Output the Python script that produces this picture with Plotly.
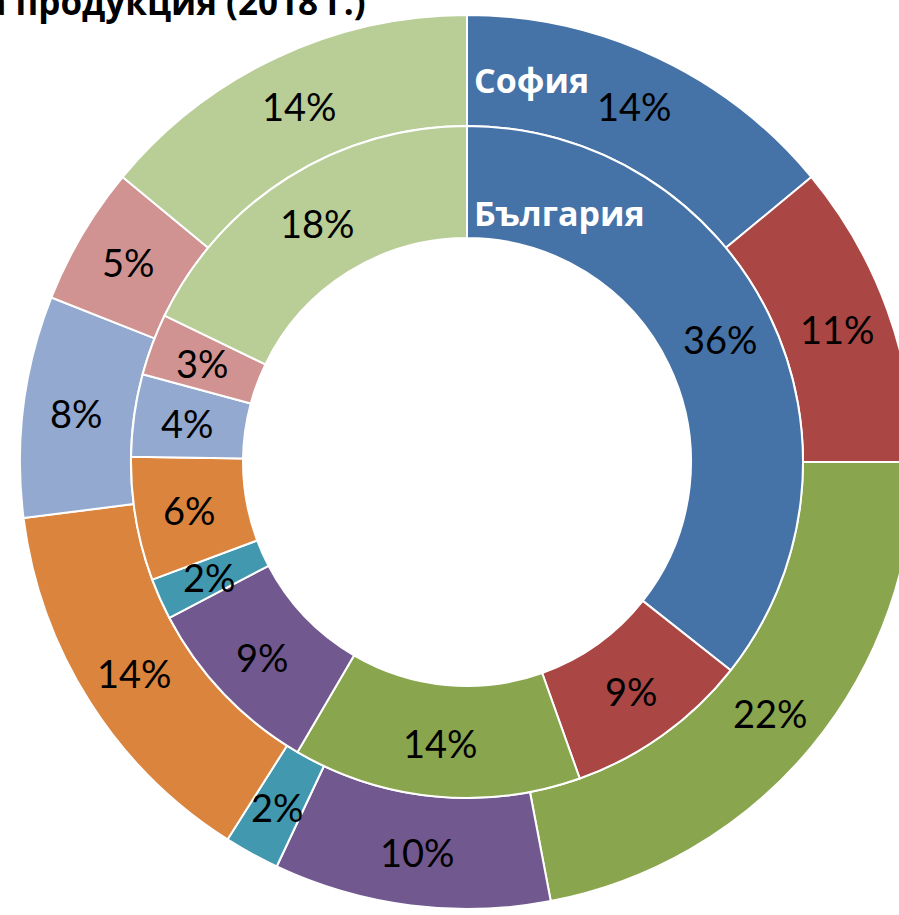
import math
import plotly.graph_objects as go

# Outer ring - София, inner ring - България (share of production, 2018)
categories = ["К1", "К2", "К3", "К4", "К5", "К6", "К7", "К8", "К9"]
sofia_values = [14, 11, 22, 10, 2, 14, 8, 5, 14]
bulgaria_values = [36, 9, 14, 9, 2, 6, 4, 3, 18]
colors = ["#4572A7", "#AA4643", "#89A54E", "#71588F", "#4198AF",
          "#DB843D", "#93A9CF", "#D19392", "#B9CD96"]

W, H = 920, 915
cx, cy = 467, 462          # ring center, px
r_out, r_mid, r_hole = 447, 336, 224


def domain(r):
    return dict(x=[(cx - r) / W, (cx + r) / W],
                y=[(H - cy - r) / H, (H - cy + r) / H])


def slice_labels(values, r):
    # percent labels centred in each slice, like Excel does (no shrinking)
    total = sum(values)
    acc = 0
    out = []
    for v in values:
        ang = 2 * math.pi * (acc + v / 2) / total
        acc += v
        out.append(dict(
            text=f"{v}%", showarrow=False, xref="paper", yref="paper",
            x=(cx + r * math.sin(ang)) / W,
            y=(H - cy + r * math.cos(ang)) / H,
            xanchor="center", yanchor="middle",
            font=dict(family="Lato, Open Sans, sans-serif", size=38, color="black"),
        ))
    return out


fig = go.Figure()

fig.add_trace(go.Pie(
    labels=categories, values=sofia_values, textinfo="none",
    sort=False, direction="clockwise", rotation=0,
    hole=r_mid / r_out, domain=domain(r_out),
    marker=dict(colors=colors, line=dict(color="white", width=2)),
    showlegend=False, name="София",
))

fig.add_trace(go.Pie(
    labels=categories, values=bulgaria_values, textinfo="none",
    sort=False, direction="clockwise", rotation=0,
    hole=r_hole / r_mid, domain=domain(r_mid),
    marker=dict(colors=colors, line=dict(color="white", width=2)),
    showlegend=False, name="България",
))

for a in slice_labels(sofia_values, (r_mid + r_out) / 2 + 2):
    fig.add_annotation(**a)
for a in slice_labels(bulgaria_values, (r_hole + r_mid) / 2 + 2):
    fig.add_annotation(**a)

fig.add_annotation(text="София", x=(cx + 5) / W, y=1 - 80 / H,
                   xref="paper", yref="paper", xanchor="left", yanchor="middle",
                   showarrow=False,
                   font=dict(family="Open Sans", size=34, color="white", weight="bold"))
fig.add_annotation(text="България", x=(cx + 5) / W, y=1 - 213 / H,
                   xref="paper", yref="paper", xanchor="left", yanchor="middle",
                   showarrow=False,
                   font=dict(family="Open Sans", size=34, color="white", weight="bold"))

# chart title, cut off at the top edge like the original
fig.add_annotation(text="Структура на продукция (2018 г.)", x=368 / W, y=1 - 1.5 / H,
                   xref="paper", yref="paper", xanchor="right", yanchor="middle",
                   showarrow=False,
                   font=dict(family="Open Sans", size=35, color="black", weight="bold"))

fig.update_layout(
    width=W, height=H,
    margin=dict(l=0, r=0, t=0, b=0),
    paper_bgcolor="white",
)

fig.write_html("out.html", config={"displayModeBar": False},
               post_script="document.body.style.margin = '0';")
